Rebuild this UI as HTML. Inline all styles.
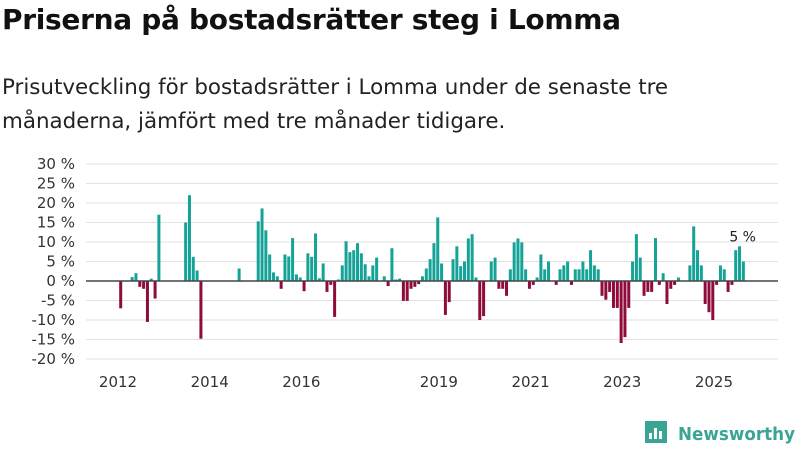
<!DOCTYPE html>
<html><head><meta charset="utf-8"><style>
body{margin:0;background:#fff;font-family:"Liberation Sans","DejaVu Sans",sans-serif;}
#wrap{position:relative;width:800px;height:450px;overflow:hidden;}
h1{position:absolute;left:2px;top:3px;margin:0;font-size:28px;font-weight:bold;color:#111;font-family:"DejaVu Sans","Liberation Sans",sans-serif;letter-spacing:-0.3px}
p{position:absolute;left:2px;top:71px;margin:0;font-size:21.4px;line-height:34px;color:#222;font-family:"DejaVu Sans","Liberation Sans",sans-serif;}
svg{position:absolute;left:0;top:0}
</style></head><body><div id="wrap">
<h1>Priserna på bostadsrätter steg i Lomma</h1>
<p>Prisutveckling för bostadsrätter i Lomma under de senaste tre<br>månaderna, jämfört med tre månader tidigare.</p>
<svg id="chart" width="800" height="450"></svg>
</div>
<script>
const yTicks=[30,20,10,0,-10,-20,-15,-5,5,15,25];
const xTickLabels=["2012","2014","2016","2019","2021","2023","2025"];
const xTickMonths=[0,24,48,84,108,132,156];
// values: % change, month index from Jan 2012
const monthIdx=[0,3,4,5,6,7,8,9,10,17,18,19,20,21,31,36,37,38,39,40,41,42,43,44,45,46,47,48,49,50,51,52,53,54,55,56,57,58,59,60,61,62,63,64,65,66,67,69,70,71,72,73,74,75,76,77,78,79,80,81,82,83,84,85,86,87,88,89,90,91,92,93,94,95,97,98,99,100,101,102,103,104,105,106,107,108,109,110,111,112,114,115,116,117,118,119,120,121,122,123,124,125,126,127,128,129,130,131,132,133,134,135,136,137,138,139,140,141,142,143,144,145,146,149,150,151,152,153,154,155,156,157,158,159,160,161,162,163];
const values=[-7,1,2,-1.5,-2,-10.5,0.6,-4.5,17,15,22,6.2,2.7,-14.8,3.2,15.3,18.6,13,6.8,2.2,1.2,-2,6.8,6.3,11,1.7,0.9,-2.6,7.1,6.2,12.2,0.7,4.5,-2.8,-1,-9.2,0.4,4,10.2,7.4,7.9,9.7,7.1,4.3,1.2,4,6,1.2,-1.3,8.4,0.4,0.6,-5.1,-5.1,-2,-1.5,-0.8,1.2,3.2,5.6,9.7,16.3,4.5,-8.7,-5.4,5.6,8.9,3.8,5,10.9,12,0.9,-10,-9,5,6,-2,-2,-3.8,3,9.9,10.9,9.9,3,-2,-1,0.9,6.8,3,5,-1,3,4,5,-1,3,3,5,3,7.9,4,3,-3.8,-4.8,-2.8,-6.9,-6.9,-15.9,-14.4,-6.9,5,12,6,-3.8,-2.8,-2.8,11,-1,2,-5.9,-2,-1,0.9,4,14,7.9,4,-5.9,-8,-10,-1,4,3,-2.8,-1,7.9,8.9,5];
const NS="http://www.w3.org/2000/svg";
const svg=document.getElementById('chart');
const y=v=>281-v*3.9;
const x=m=>118+m*3.82;
function mk(t,a){const e=document.createElementNS(NS,t);for(const k in a)e.setAttribute(k,a[k]);svg.appendChild(e);return e;}
yTicks.forEach(t=>{
 const g=mk('line',{x1:86,x2:778,y1:y(t),y2:y(t),stroke:'#e2e2e2','stroke-width':1});
 
 
 const l=mk('text',{x:75,y:y(t)+5,'text-anchor':'end','font-size':15,fill:'#333','font-family':'DejaVu Sans, Liberation Sans, sans-serif'});
 l.textContent=t+' %';
 
 
});
monthIdx.forEach((m,i)=>{
 const v=values[i];
 const r=mk('rect',{x:x(m)+1.2,width:3,y:Math.min(y(v),y(0)),height:Math.abs(y(v)-y(0)),fill:v>=0?'#14a396':'#8e0b3c'});
 
 
});
const z=mk('line',{x1:86,x2:778,y1:y(0),y2:y(0),stroke:'#444','stroke-width':1.5});


xTickLabels.forEach((t,i)=>{
 const l=mk('text',{x:x(xTickMonths[i]),y:387,'text-anchor':'middle','font-size':15,fill:'#333','font-family':'DejaVu Sans, Liberation Sans, sans-serif'});
 l.textContent=t;
 
 
});
const lastI=values.length-1;
const lab=mk('text',{x:x(monthIdx[lastI])+2,y:y(values[lastI])-20,'text-anchor':'middle','font-size':14,fill:'#222','font-family':'DejaVu Sans, Liberation Sans, sans-serif'});
lab.textContent=Math.round(values[lastI])+' %';


// logo
const lg=mk('g',{});


const b=document.createElementNS(NS,'path');
b.setAttribute('d','M645 421 h22 v22 h-22 z');b.setAttribute('fill','#3aa595');lg.appendChild(b);
[[649,433,3,6],[654,428,3,11],[659,431,3,8]].forEach(a=>{const r=document.createElementNS(NS,'rect');r.setAttribute('x',a[0]);r.setAttribute('y',a[1]);r.setAttribute('width',a[2]);r.setAttribute('height',a[3]);r.setAttribute('fill','#fff');lg.appendChild(r);});
const lt=document.createElementNS(NS,'text');
lt.setAttribute('x',678);lt.setAttribute('y',440);lt.setAttribute('font-size',18);lt.setAttribute('font-weight','bold');lt.setAttribute('fill','#3aa595');lt.setAttribute('font-family','DejaVu Sans, Liberation Sans, sans-serif');
lt.setAttribute('textLength',117);lt.setAttribute('lengthAdjust','spacingAndGlyphs');
lt.textContent='Newsworthy';lg.appendChild(lt);
</script></body></html>
